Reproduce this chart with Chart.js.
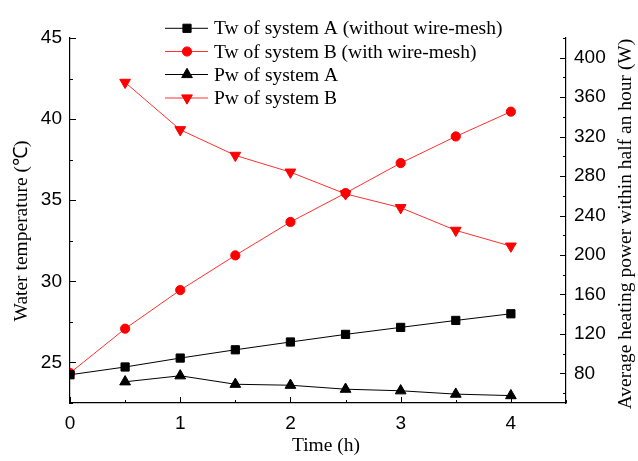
<!DOCTYPE html>
<html>
<head>
<meta charset="utf-8">
<script src="https://cdn.jsdelivr.net/npm/chart.js@4"></script>
<style>
  html, body { margin: 0; padding: 0; background: #fff; }
  #wrap { width: 638px; height: 461px; }
</style>
</head>
<body>
<div id="wrap"><canvas id="chart" width="638" height="461"></canvas></div>
<script>
// time axis (h)
const hours = [0, 0.5, 1, 1.5, 2, 2.5, 3, 3.5, 4];
const pwHours = [0.5, 1, 1.5, 2, 2.5, 3, 3.5, 4];
// water temperature (°C)
const twA = [24.24, 24.72, 25.27, 25.78, 26.26, 26.73, 27.16, 27.59, 28.0];
const twB = [24.35, 27.08, 29.46, 31.6, 33.66, 35.44, 37.29, 38.93, 40.46];
// average heating power within half an hour (W)
const pwA = [71.5, 77.6, 69, 68, 64, 62.4, 59, 57.5];
const pwB = [375, 327, 301, 284, 262, 248, 225, 209];

const labels = [
  'Tw of system A (without wire-mesh)',
  'Tw of system B (with wire-mesh)',
  'Pw of system A',
  'Pw of system B'
];
const xTicks = [0, 1, 2, 3, 4];
const tempTicks = [25, 30, 35, 40, 45];
const powerTicks = [80, 120, 160, 200, 240, 280, 320, 360, 400];

const pts = (xs, ys) => xs.map((x, i) => ({x, y: ys[i]}));
const serif = '"Liberation Serif", "Times New Roman", serif';
const sans = '"Liberation Sans", Arial, sans-serif';

const ticksAndTitles = {
  id: 'ticksAndTitles',
  afterDraw(chart) {
    const {ctx, chartArea: a, scales} = chart;
    const {x, y, y1} = scales;
    ctx.save();
    ctx.strokeStyle = '#000';
    ctx.lineWidth = 1;
    ctx.beginPath();
    // x ticks (inward)
    for (let v = 0; v <= 4.5001; v += 0.5) {
      const px = Math.round(x.getPixelForValue(v)) + 0.5;
      const len = Number.isInteger(v) ? 6 : 3;
      ctx.moveTo(px, a.bottom); ctx.lineTo(px, a.bottom - len);
    }
    for (let v = 22.5; v <= 45.001; v += 2.5) {
      const py = Math.round(y.getPixelForValue(v)) + 0.5;
      const len = v % 5 === 0 ? 6 : 3;
      ctx.moveTo(a.left, py); ctx.lineTo(a.left + len, py);
    }
    for (let v = 60; v <= 420; v += 20) {
      const py = Math.round(y1.getPixelForValue(v)) + 0.5;
      const len = v % 40 === 0 ? 6 : 3;
      ctx.moveTo(a.right, py); ctx.lineTo(a.right - len, py);
    }
    ctx.stroke();

    // axis titles
    ctx.fillStyle = '#000';
    ctx.font = '19.5px ' + serif;
    ctx.textAlign = 'center';
    ctx.textBaseline = 'middle';
    ctx.fillText('Time (h)', 326, 446);
    ctx.save();
    ctx.translate(22, 231);
    ctx.rotate(-Math.PI / 2);
    ctx.fillText('Water temperature (\u2103)', 0, 0);
    ctx.restore();
    ctx.save();
    ctx.translate(626, 224);
    ctx.rotate(-Math.PI / 2);
    ctx.fillText('Average heating power within half an hour (W)', 0, 0);
    ctx.restore();

    // legend
    const rows = [28.3, 51.5, 74.5, 98];
    ctx.textAlign = 'left';
    chart.data.datasets.forEach((ds, i) => {
      const ly = rows[i];
      ctx.strokeStyle = ds.borderColor;
      ctx.lineWidth = 1;
      ctx.beginPath();
      ctx.moveTo(165, ly); ctx.lineTo(208, ly);
      ctx.stroke();
      ctx.fillStyle = ds.pointBackgroundColor;
      ctx.strokeStyle = ds.pointBackgroundColor;
      Chart.helpers.drawPoint(ctx, {
        pointStyle: ds.pointStyle,
        rotation: ds.pointRotation || 0,
        radius: ds.pointRadius,
        borderWidth: 1
      }, 187, ly);
      ctx.fillStyle = '#000';
      ctx.fillText(ds.label, 214, ly + 1);
    });
    ctx.restore();
  }
};

new Chart(document.getElementById('chart'), {
  type: 'line',
  data: {
    datasets: [
      {
        label: labels[0], data: pts(hours, twA), yAxisID: 'y',
        borderColor: '#000', borderWidth: 1,
        pointStyle: 'rect', pointRadius: 5.8,
        pointBackgroundColor: '#000', pointBorderColor: '#000'
      },
      {
        label: labels[1], data: pts(hours, twB), yAxisID: 'y',
        borderColor: '#ff3030', borderWidth: 1,
        pointStyle: 'circle', pointRadius: 4.6,
        pointBackgroundColor: '#ff0000', pointBorderColor: '#ff0000'
      },
      {
        label: labels[2], data: pts(pwHours, pwA), yAxisID: 'y1',
        borderColor: '#000', borderWidth: 1,
        pointStyle: 'triangle', pointRadius: 6.2,
        pointBackgroundColor: '#000', pointBorderColor: '#000'
      },
      {
        label: labels[3], data: pts(pwHours, pwB), yAxisID: 'y1',
        borderColor: '#ff3030', borderWidth: 1,
        pointStyle: 'triangle', pointRotation: 180, pointRadius: 6.2,
        pointBackgroundColor: '#ff0000', pointBorderColor: '#ff0000'
      }
    ]
  },
  options: {
    responsive: false,
    animation: false,
    layout: { padding: { top: 38, left: 0, right: 0, bottom: 0 } },
    plugins: { legend: { display: false }, tooltip: { enabled: false } },
    elements: { line: { tension: 0 } },
    scales: {
      x: {
        type: 'linear', min: 0, max: 4.5,
        afterFit: s => { s.height = 58; },
        afterBuildTicks: s => { s.ticks = xTicks.map(v => ({value: v})); },
        grid: { display: false, drawTicks: false },
        border: { color: '#000', width: 1.2 },
        ticks: { color: '#000', padding: 9, font: { family: sans, size: 19 } }
      },
      y: {
        position: 'left', min: 22.5, max: 45,
        afterFit: s => { s.width = 70; },
        afterBuildTicks: s => { s.ticks = tempTicks.map(v => ({value: v})); },
        grid: { display: false, drawTicks: false },
        border: { color: '#000', width: 1.2 },
        ticks: { color: '#000', padding: 8, font: { family: sans, size: 19 } }
      },
      y1: {
        position: 'right', min: 50, max: 420,
        afterFit: s => { s.width = 72; },
        afterBuildTicks: s => { s.ticks = powerTicks.map(v => ({value: v})); },
        grid: { display: false, drawTicks: false },
        border: { color: '#000', width: 1.2 },
        ticks: { color: '#000', padding: 8, font: { family: sans, size: 19 } }
      }
    }
  },
  plugins: [ticksAndTitles]
});
</script>
</body>
</html>
